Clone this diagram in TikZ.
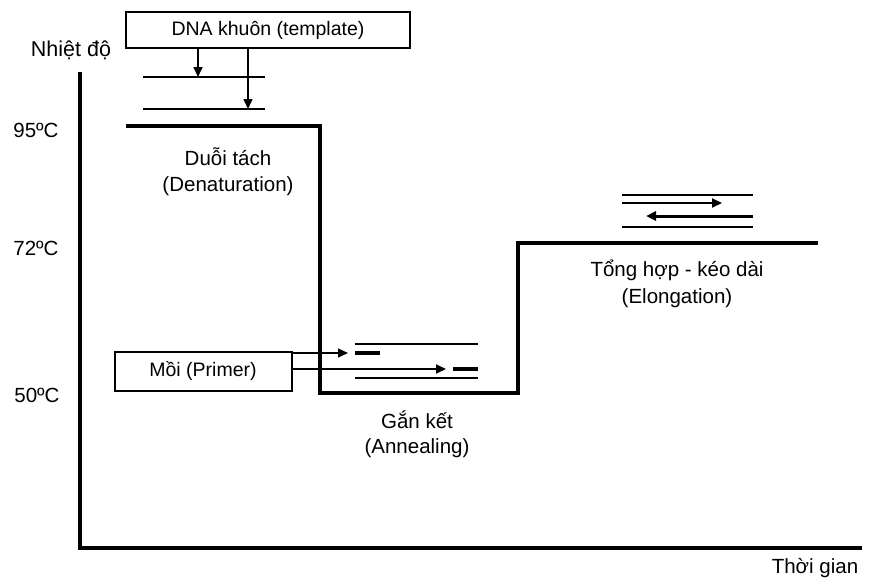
\documentclass[tikz,border=0pt]{standalone}
\usepackage{fontspec}
\setmainfont{Liberation Sans}
\usetikzlibrary{arrows.meta}
\begin{document}
\begin{tikzpicture}[x=1pt,y=-1pt,
  lbl/.style={font=\fontsize{20.5}{24}\selectfont, inner sep=0pt},
  boxn/.style={draw, line width=2pt, minimum height=36pt, inner sep=0pt, font=\fontsize{19.5}{22}\selectfont},
  axisline/.style={line width=3.6pt},
  curve/.style={line width=3.6pt},
  strand/.style={line width=2pt},
  thickstrand/.style={line width=3.6pt},
  arr/.style={line width=1.6pt, -{Triangle[length=10pt,width=9pt]}},
]
\useasboundingbox (0,0) rectangle (878,584);
% axes
\coordinate (ytop) at (80,72);
\coordinate (orig) at (80,548);
\coordinate (xend) at (862,548);
\draw[axisline] (ytop) -- (orig) -- (xend);
\node[lbl, font=\fontsize{21.5}{24}\selectfont] (ylab) at (71,50) {Nhiệt độ};
\node[lbl] (xlab) at (815,568) {Thời gian};
\node[lbl] (t95) at (36,130) {95ºC};
\node[lbl] (t72) at (36,248) {72ºC};
\node[lbl] (t50) at (37,395) {50ºC};
% temperature profile
\coordinate (c1) at (126,126);
\coordinate (c2) at (320,126);
\coordinate (c3) at (320,393);
\coordinate (c4) at (518,393);
\coordinate (c5) at (518,243);
\coordinate (c6) at (818,243);
\draw[curve] (c1) -- (c2) -- (c3) -- (c4) -- (c5) -- (c6);
% denaturation
\node[boxn, minimum width=284pt] (dna) at (268,30) {DNA khuôn (template)};
\coordinate (s1a) at (143,77); \coordinate (s1b) at (265,77);
\coordinate (s2a) at (143,109); \coordinate (s2b) at (265,109);
\draw[strand] (s1a) -- (s1b);
\draw[strand] (s2a) -- (s2b);
\draw[arr] (dna.south -| 198,0) -- (198,77);
\draw[arr] (dna.south -| 248,0) -- (248,109);
\node[lbl] (den1) at (228,157) {Duỗi tách};
\node[lbl] (den2) at (228,186) {(Denaturation)};
% annealing
\node[boxn, minimum width=177pt, minimum height=39pt] (primer) at (203,371) {Mồi (Primer)};
\coordinate (a1a) at (355,344); \coordinate (a1b) at (478,344);
\coordinate (a2a) at (355,378); \coordinate (a2b) at (478,378);
\draw[strand] (a1a) -- (a1b);
\draw[strand] (a2a) -- (a2b);
\coordinate (p1a) at (355,353); \coordinate (p1b) at (380,353);
\coordinate (p2a) at (453,369); \coordinate (p2b) at (478,369);
\draw[thickstrand] (p1a) -- (p1b);
\draw[thickstrand] (p2a) -- (p2b);
\draw[arr, line width=1.2pt] (primer.east |- 0,353) -- (348,353);
\draw[arr, line width=1.8pt] (primer.east |- 0,369) -- (446,369);
\node[lbl] (ann1) at (417,420) {Gắn kết};
\node[lbl] (ann2) at (417,448) {(Annealing)};
% elongation
\coordinate (e1a) at (622,195); \coordinate (e1b) at (753,195);
\coordinate (e4a) at (622,227); \coordinate (e4b) at (753,227);
\draw[strand] (e1a) -- (e1b);
\draw[strand] (e4a) -- (e4b);
\coordinate (e2a) at (622,203); \coordinate (e2b) at (722,203);
\coordinate (e3a) at (753,216); \coordinate (e3b) at (646,216);
\draw[arr, line width=2pt] (e2a) -- (e2b);
\draw[arr, line width=3pt] (e3a) -- (e3b);
\node[lbl] (el1) at (677,270) {Tổng hợp - kéo dài};
\node[lbl] (el2) at (677,298) {(Elongation)};
\end{tikzpicture}
\end{document}
